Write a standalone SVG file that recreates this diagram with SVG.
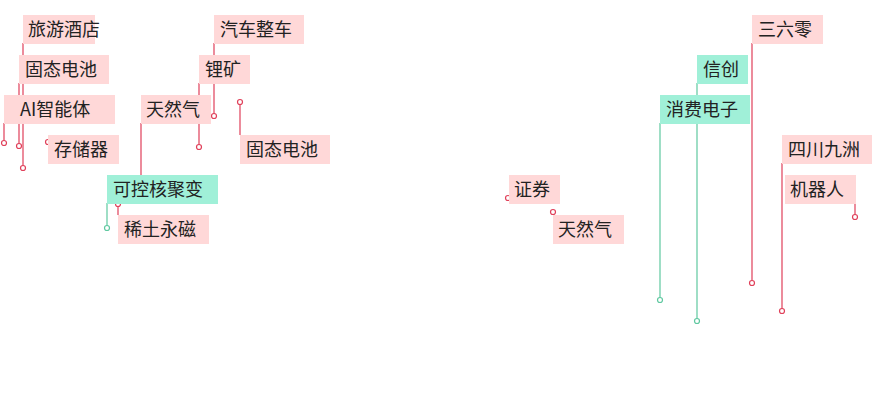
<svg xmlns="http://www.w3.org/2000/svg" width="890" height="400" viewBox="0 0 890 400">
<style>
.p rect{fill:#ffd8d8}.g rect{fill:#a0f0d8}
text{font-family:"Noto Sans CJK SC","Liberation Sans",sans-serif;font-size:18px;fill:#222}
.lp{stroke:#e0405a;stroke-width:1.2;fill:none}.lg{stroke:#5fc8a0;stroke-width:1.2;fill:none}
circle{fill:#fff;stroke-width:1.2}
.cp{stroke:#e0405a}.cg{stroke:#5fc8a0}
</style>
<g id="connectors">
<path class="lp" d="M23,43V168M19,83V146M4,123V143M214,43V116M199,83V147M141,123V175M240,102V135M118,205V215M752,43V283M782,163V311M855,203V217"/>
<path class="lg" d="M107,203V228M697,83V321M660,123V300"/>
<circle class="cp" cx="23" cy="168" r="2.5"/><circle class="cp" cx="19" cy="146" r="2.5"/><circle class="cp" cx="4" cy="143" r="2.5"/><circle class="cp" cx="48" cy="142" r="2.5"/>
<circle class="cp" cx="214" cy="116" r="2.5"/><circle class="cp" cx="199" cy="147" r="2.5"/><circle class="cp" cx="240" cy="102" r="2.5"/><circle class="cp" cx="118" cy="204" r="2.5"/>
<circle class="cp" cx="508" cy="198" r="2.5"/><circle class="cp" cx="553" cy="212" r="2.5"/><circle class="cp" cx="752" cy="283" r="2.5"/><circle class="cp" cx="782" cy="311" r="2.5"/><circle class="cp" cx="855" cy="217" r="2.5"/>
<circle class="cg" cx="107" cy="228" r="2.5"/><circle class="cg" cx="697" cy="321" r="2.5"/><circle class="cg" cx="660" cy="300" r="2.5"/>
</g>
<g id="n1" class="p"><rect x="23" y="15" width="72" height="29"/><text x="28" y="36">旅游酒店</text></g>
<g id="n2" class="p"><rect x="19" y="55" width="90" height="29"/><text x="25" y="76">固态电池</text></g>
<g id="n3" class="p"><rect x="4" y="95" width="111" height="29"/><text x="20" y="116">AI智能体</text></g>
<g id="n4" class="p"><rect x="48" y="135" width="71" height="29"/><text x="54" y="156">存储器</text></g>
<g id="n5" class="p"><rect x="214" y="15" width="90" height="29"/><text x="220" y="36">汽车整车</text></g>
<g id="n6" class="p"><rect x="199" y="55" width="51" height="29"/><text x="205" y="76">锂矿</text></g>
<g id="n7" class="p"><rect x="141" y="95" width="70" height="29"/><text x="146" y="116">天然气</text></g>
<g id="n8" class="p"><rect x="240" y="135" width="90" height="29"/><text x="246" y="156">固态电池</text></g>
<g id="n9" class="g"><rect x="107" y="175" width="111" height="29"/><text x="113" y="196">可控核聚变</text></g>
<g id="n10" class="p"><rect x="118" y="215" width="91" height="29"/><text x="124" y="236">稀土永磁</text></g>
<g id="n11" class="p"><rect x="509" y="175" width="51" height="29"/><text x="514" y="196">证券</text></g>
<g id="n12" class="p"><rect x="553" y="215" width="71" height="29"/><text x="558" y="236">天然气</text></g>
<g id="n13" class="p"><rect x="752" y="15" width="71" height="29"/><text x="758" y="36">三六零</text></g>
<g id="n14" class="g"><rect x="697" y="55" width="51" height="29"/><text x="703" y="76">信创</text></g>
<g id="n15" class="g"><rect x="660" y="95" width="90" height="29"/><text x="666" y="116">消费电子</text></g>
<g id="n16" class="p"><rect x="782" y="135" width="90" height="29"/><text x="788" y="156">四川九洲</text></g>
<g id="n17" class="p"><rect x="785" y="175" width="71" height="29"/><text x="790" y="196">机器人</text></g>
</svg>
